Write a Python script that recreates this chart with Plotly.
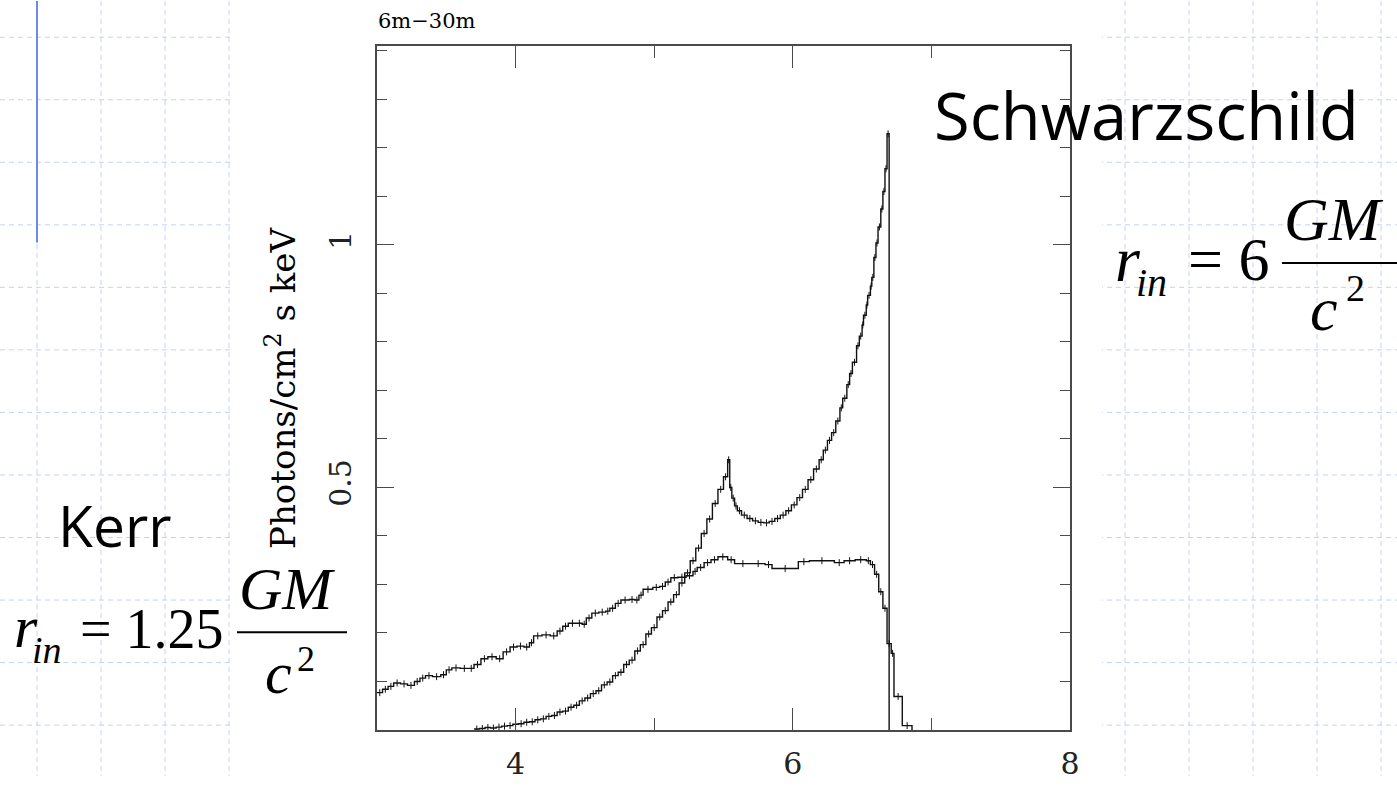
import numpy as np
import plotly.graph_objects as go

# ---------------- data ----------------
# Schwarzschild (r_in = 6 GM/c^2) line profile: bin left edges (keV) and flux
s_energy = [3.70, 3.74, 3.78, 3.82, 3.86, 3.90, 3.94, 3.98, 4.02, 4.06,
            4.10, 4.14, 4.18, 4.22, 4.26, 4.30, 4.34, 4.38, 4.42, 4.46,
            4.50, 4.54, 4.58, 4.62, 4.66, 4.70, 4.74, 4.78, 4.82, 4.86,
            4.90, 4.94, 4.98, 5.02, 5.06, 5.10, 5.14, 5.18, 5.22, 5.26,
            5.30, 5.34, 5.38, 5.42, 5.46, 5.50,
            5.53, 5.545, 5.56, 5.58, 5.60, 5.63, 5.67, 5.71, 5.75, 5.79,
            5.83, 5.87, 5.91, 5.95, 5.99, 6.03, 6.07, 6.11, 6.15, 6.19,
            6.22, 6.25, 6.28, 6.31, 6.34, 6.36, 6.39, 6.41, 6.43, 6.46,
            6.48, 6.50, 6.51, 6.53, 6.54, 6.56, 6.57, 6.585, 6.60, 6.615,
            6.635, 6.65, 6.665, 6.68, 6.695]
s_flux = [0.002, 0.003, 0.005, 0.004, 0.006, 0.008, 0.009, 0.012, 0.013, 0.016,
          0.017, 0.021, 0.023, 0.028, 0.030, 0.037, 0.039, 0.047, 0.051, 0.060,
          0.066, 0.075, 0.081, 0.093, 0.099, 0.112, 0.119, 0.135, 0.144, 0.163,
          0.176, 0.198, 0.211, 0.233, 0.246, 0.264, 0.279, 0.303, 0.324, 0.349,
          0.375, 0.405, 0.435, 0.467, 0.496, 0.522,
          0.557, 0.500, 0.478, 0.462, 0.452, 0.443, 0.436, 0.431, 0.428, 0.427,
          0.430, 0.436, 0.443, 0.452, 0.464, 0.479, 0.496, 0.516, 0.538, 0.557,
          0.577, 0.597, 0.613, 0.637, 0.664, 0.684, 0.712, 0.735, 0.758, 0.792,
          0.812, 0.835, 0.855, 0.876, 0.896, 0.915, 0.933, 0.974, 1.004, 1.037,
          1.074, 1.110, 1.157, 1.229]

# Kerr (r_in = 1.25 GM/c^2) line profile
k_energy = [3.00, 3.04, 3.08, 3.12, 3.17, 3.22, 3.27, 3.31, 3.35, 3.40,
            3.46, 3.50, 3.54, 3.60, 3.66, 3.70, 3.75, 3.80, 3.86, 3.91,
            3.96, 4.01, 4.06, 4.10, 4.13, 4.19, 4.25, 4.30, 4.34, 4.38,
            4.44, 4.48, 4.51, 4.55, 4.60, 4.65, 4.68, 4.72, 4.76, 4.82,
            4.86, 4.89, 4.92, 4.99, 5.04, 5.08, 5.12, 5.17, 5.23, 5.28,
            5.31, 5.36, 5.41, 5.46, 5.53, 5.58, 5.70, 5.80, 5.85, 6.04,
            6.12, 6.30, 6.37, 6.45, 6.53, 6.56, 6.59, 6.62, 6.65, 6.68,
            6.71, 6.73, 6.79, 6.86]
k_flux = [0.077, 0.084, 0.090, 0.097, 0.095, 0.092, 0.100, 0.107, 0.112, 0.110,
          0.114, 0.124, 0.128, 0.127, 0.127, 0.135, 0.147, 0.151, 0.147, 0.161,
          0.171, 0.173, 0.171, 0.180, 0.194, 0.196, 0.194, 0.204, 0.214, 0.220,
          0.220, 0.218, 0.231, 0.241, 0.243, 0.245, 0.251, 0.261, 0.268, 0.269,
          0.268, 0.278, 0.290, 0.294, 0.296, 0.305, 0.314, 0.315, 0.318, 0.327,
          0.335, 0.345, 0.351, 0.357, 0.351, 0.343, 0.343, 0.341, 0.333, 0.347,
          0.349, 0.345, 0.349, 0.351, 0.349, 0.341, 0.321, 0.285, 0.251, 0.178,
          0.158, 0.069, 0.009]

x_range = [3, 8]
y_range = [0, 1.41]
x_major = [4, 6, 8]
x_minor = [3, 5, 7]
y_major = [0.5, 1.0]
y_major_text = ["0.5", "1"]
y_minor = [0.1, 0.2, 0.3, 0.4, 0.6, 0.7, 0.8, 0.9, 1.1, 1.2, 1.3, 1.4]

panel_title = "6m\u221230m"
y_title = "Photons/cm<sup>2</sup> s keV"

# ---------------- layout helpers ----------------
W, H = 1397, 793
L, R, T, B = 377, 1070, 46, 746


def fx(p):
    return (p - L) / (R - L)


def fy(p):
    return (B - p) / (B - T)


fig = go.Figure()

LINE = dict(color="#111111", width=1.4)
AX = "#4a4a4a"


def add_hist(edges, flux):
    xs = list(edges)
    ys = list(flux) + [0.0]
    fig.add_trace(go.Scatter(x=xs, y=ys, mode="lines", line=LINE,
                             line_shape="hv", showlegend=False,
                             hoverinfo="skip"))
    e = np.array(edges)
    centers = (e[:-1] + e[1:]) / 2
    fig.add_trace(go.Scatter(x=centers, y=flux, mode="markers",
                             marker=dict(symbol="line-ns", size=5,
                                         line=dict(color="#111111", width=1)),
                             showlegend=False, hoverinfo="skip"))


add_hist(k_energy, k_flux)
add_hist(s_energy, s_flux)

# ---------------- background slide grid ----------------
shapes = []
grid = dict(color="#c6d1f6", width=1, dash="5px,4px")
for gx in [37, 101, 165, 229, 1125, 1189, 1253, 1317, 1381]:
    shapes.append(dict(type="line", xref="paper", yref="paper",
                       x0=fx(gx), x1=fx(gx), y0=fy(0), y1=fy(H),
                       line=grid, layer="below"))
for gy in [37, 101, 165, 229, 293, 357, 421, 485, 549, 613, 677, 741]:
    shapes.append(dict(type="line", xref="paper", yref="paper",
                       x0=fx(0), x1=fx(W), y0=fy(gy), y1=fy(gy),
                       line=grid, layer="below"))
# white picture area
shapes.append(dict(type="rect", xref="paper", yref="paper",
                   x0=fx(231), x1=fx(1102), y0=fy(0), y1=fy(H),
                   fillcolor="white", line=dict(width=0), layer="below"))
# solid blue accent line
shapes.append(dict(type="line", xref="paper", yref="paper",
                   x0=fx(37), x1=fx(37), y0=fy(0), y1=fy(247),
                   line=dict(color="#6e87f0", width=2), layer="below"))
# fraction bars
shapes.append(dict(type="line", xref="paper", yref="paper",
                   x0=fx(1282), x1=fx(1400), y0=fy(268), y1=fy(268),
                   line=dict(color="black", width=2)))
shapes.append(dict(type="line", xref="paper", yref="paper",
                   x0=fx(237), x1=fx(347), y0=fy(646), y1=fy(646),
                   line=dict(color="black", width=2)))

# ---------------- text ----------------
ann = []


def text(t, x, y, size, family, xanchor="left", angle=0):
    ann.append(dict(text=t, xref="paper", yref="paper", x=fx(x), y=fy(y),
                    xanchor=xanchor, yanchor="middle", showarrow=False,
                    textangle=angle,
                    font=dict(family=family, size=size, color="black")))


SERIF_PLOT = "DejaVu Serif"
TIMES = "Liberation Serif"
SANS = "Open Sans"

text(panel_title, 376, 20, 21, SERIF_PLOT)
text(y_title, 281, 396, 34, SERIF_PLOT, xanchor="center", angle=-90)

text("Schwarzschild", 932, 117, 65, SANS)
text("Kerr", 56, 536, 57, SANS)

# Schwarzschild formula
text("<i>r</i>", 1113, 264, 64, TIMES)
text("<i>in</i>", 1134, 288, 40, TIMES)
text("= 6", 1186, 264, 62, TIMES)
text("<i>GM</i>", 1282, 223, 62, TIMES)
text("<i>c</i>", 1308, 315, 62, TIMES)
text("2", 1344, 294, 38, TIMES)

# Kerr formula
text("<i>r</i>", 12, 641, 60, TIMES)
text("<i>in</i>", 30, 664, 38, TIMES)
text("= 1.25", 78, 643, 56, TIMES)
text("<i>GM</i>", 237, 602, 60, TIMES)
text("<i>c</i>", 263, 688, 60, TIMES)
text("2", 295, 673, 36, TIMES)

fig.update_layout(
    width=W, height=H, autosize=False,
    margin=dict(l=L, r=W - R, t=T, b=H - B, pad=0),
    paper_bgcolor="white", plot_bgcolor="white",
    shapes=shapes, annotations=ann, showlegend=False,
    xaxis=dict(range=x_range, showgrid=False, zeroline=False,
               showline=True, linecolor=AX, linewidth=1.5, mirror="ticks",
               ticks="inside", ticklen=22, tickwidth=1.3, tickcolor=AX,
               tickmode="array", tickvals=x_major,
               ticktext=[str(v) for v in x_major],
               tickfont=dict(family=SERIF_PLOT, size=30, color="#222"),
               ticklabelstandoff=6,
               minor=dict(tickmode="array", tickvals=x_minor, ticks="inside",
                          ticklen=12, tickwidth=1.3, tickcolor=AX,
                          showgrid=False)),
    yaxis=dict(range=y_range, showgrid=False, zeroline=False,
               showline=True, linecolor=AX, linewidth=1.5, mirror="ticks",
               ticks="inside", ticklen=17, tickwidth=1.3, tickcolor=AX,
               tickmode="array", tickvals=y_major, ticktext=y_major_text,
               tickangle=-90,
               tickfont=dict(family=SERIF_PLOT, size=30, color="#222"),
               ticklabelstandoff=12,
               minor=dict(tickmode="array", tickvals=y_minor, ticks="inside",
                          ticklen=10, tickwidth=1.3, tickcolor=AX,
                          showgrid=False)),
)

fig.write_html("out.html",
               config={"displayModeBar": False, "responsive": False},
               post_script="document.body.style.margin='0';"
                           "document.body.style.overflow='hidden';")
